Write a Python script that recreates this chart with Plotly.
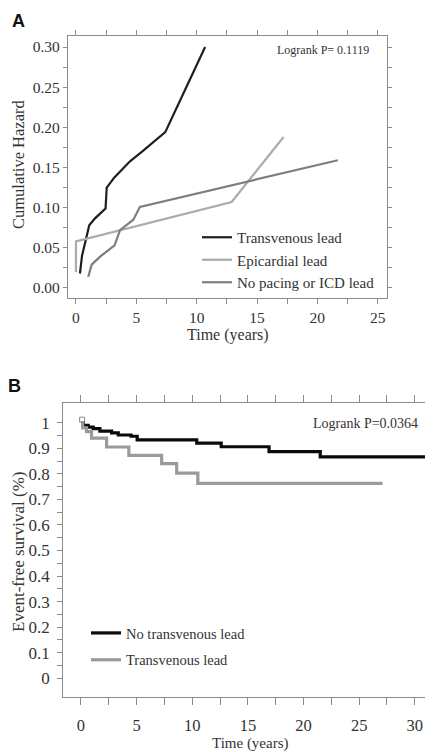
import plotly.graph_objects as go

W, H = 433, 752
OFF = 8  # page body margin in the browser
SERIF = "Liberation Serif"
TXT = "#333333"
FRAME = "#8c8c8c"

# ---------------- Panel A data (cumulative hazard) ----------------
a_trans_t = [0.33, 0.5, 1.1, 1.6, 2.45, 2.55, 3.2, 4.5, 5.5, 7.4, 10.7]
a_trans_h = [0.018, 0.04, 0.078, 0.087, 0.099, 0.125, 0.138, 0.158, 0.170, 0.194, 0.300]
a_epi_t = [0.0, 0.0, 12.9, 17.2]
a_epi_h = [0.020, 0.058, 0.107, 0.188]
a_none_t = [1.02, 1.3, 2.0, 3.2, 3.65, 4.75, 5.3, 21.7]
a_none_h = [0.014, 0.029, 0.039, 0.053, 0.072, 0.085, 0.101, 0.159]

# ---------------- Panel B data (event-free survival) ----------------
b_notv_t = [0, 0.2, 0.65, 1.1, 1.7, 2.75, 3.35, 4.5, 5.05, 10.4, 12.6, 16.9, 21.5, 31.2]
b_notv_s = [1.0, 0.99, 0.983, 0.977, 0.967, 0.96, 0.952, 0.947, 0.933, 0.92, 0.906, 0.887, 0.866, 0.866]
b_tv_t = [0, 0.15, 0.5, 0.95, 2.3, 4.3, 7.25, 8.6, 10.5, 27.1]
b_tv_s = [1.0, 0.98, 0.965, 0.94, 0.905, 0.872, 0.84, 0.803, 0.763, 0.763]
b_censor_t = [0.1]
b_censor_s = [1.012]

b_xticks = [0, 2.5, 5, 7.5, 10, 12.5, 15, 17.5, 20, 22.5, 25, 27.5, 30]
b_xtext = ["0", "", "5", "", "10", "", "15", "", "20", "", "25", "", "30"]
b_yticks = [i / 20 for i in range(21)]
b_ytext = [("1" if i == 20 else "0" if i == 0 else f"{i/20:.1f}") if i % 2 == 0 else "" for i in range(21)]


def px_x(p):
    return (p - OFF) / W


def px_y(p):
    return 1 - (p - OFF) / H


fig = go.Figure()

fig.add_trace(go.Scatter(x=a_trans_t, y=a_trans_h, mode="lines", name="Transvenous lead",
                         line=dict(color="#1e1e1e", width=2.2), xaxis="x", yaxis="y", legend="legend"))
fig.add_trace(go.Scatter(x=a_epi_t, y=a_epi_h, mode="lines", name="Epicardial lead",
                         line=dict(color="#ababab", width=2.2), xaxis="x", yaxis="y", legend="legend"))
fig.add_trace(go.Scatter(x=a_none_t, y=a_none_h, mode="lines", name="No pacing or ICD lead",
                         line=dict(color="#7e7e7e", width=2.2), xaxis="x", yaxis="y", legend="legend"))

fig.add_trace(go.Scatter(x=b_notv_t, y=b_notv_s, mode="lines", name="No transvenous lead",
                         line=dict(color="#0a0a0a", width=3.2, shape="hv"), xaxis="x2", yaxis="y2",
                         legend="legend2", legendgroup="g1"))
fig.add_trace(go.Scatter(x=b_tv_t, y=b_tv_s, mode="lines", name="Transvenous lead",
                         line=dict(color="#9a9a9a", width=3.2, shape="hv"), xaxis="x2", yaxis="y2",
                         legend="legend2", legendgroup="g2"))
fig.add_trace(go.Scatter(x=b_censor_t, y=b_censor_s, mode="markers", showlegend=False,
                         marker=dict(symbol="square-open", size=5, color="#888", line=dict(width=1)),
                         xaxis="x2", yaxis="y2", legend="legend2", legendgroup="g2"))

base = dict(showgrid=False, zeroline=False, showline=True, linecolor=FRAME, linewidth=1.3,
            mirror="allticks", ticks="outside", tickcolor=FRAME, tickwidth=1, automargin=False)


def note(text, x, y, size, family=SERIF, angle=0, xanchor="center", color=TXT):
    return dict(text=text, x=px_x(x), y=px_y(y), xref="paper", yref="paper",
                xanchor=xanchor, yanchor="middle", textangle=angle, showarrow=False,
                font=dict(family=family, size=size, color=color))


fig.update_layout(
    template="none",
    font=dict(family=SERIF, color=TXT, size=15),
    width=W, height=H, margin=dict(l=0, r=0, t=0, b=0, autoexpand=False),
    paper_bgcolor="white", plot_bgcolor="white",
    xaxis=dict(base, domain=[px_x(68), px_x(387)], range=[-0.66, 25.77], anchor="y",
               tickmode="linear", tick0=0, dtick=5, ticklen=5,
               tickfont=dict(family=SERIF, size=15.5, color=TXT),
               minor=dict(tickmode="linear", tick0=0, dtick=2.5, ticks="outside", ticklen=5,
                          tickcolor=FRAME, tickwidth=1)),
    yaxis=dict(base, domain=[px_y(298), px_y(36)], range=[-0.0125, 0.3137], anchor="x",
               tickmode="linear", tick0=0, dtick=0.05, tickformat=".2f", ticklen=4,
               tickfont=dict(family=SERIF, size=15.5, color=TXT),
               minor=dict(tickmode="linear", tick0=0, dtick=0.025, ticks="outside", ticklen=4,
                          tickcolor=FRAME, tickwidth=1)),
    xaxis2=dict(base, domain=[px_x(63.3), px_x(431.5)], range=[-1.59, 31.5], anchor="y2",
                tickmode="array", tickvals=b_xticks, ticktext=b_xtext,
                ticklen=7, ticklabelstandoff=6, tickfont=dict(family=SERIF, size=16.5, color=TXT)),
    yaxis2=dict(base, domain=[px_y(696.7), px_y(403.3)], range=[-0.072, 1.076], anchor="x2",
                tickmode="array", tickvals=b_yticks, ticktext=b_ytext,
                ticklen=5, ticklabelstandoff=4, tickfont=dict(family=SERIF, size=17, color=TXT)),
    legend=dict(x=px_x(197), y=px_y(221), xanchor="left", yanchor="top",
                bgcolor="rgba(0,0,0,0)", font=dict(family=SERIF, size=15, color=TXT)),
    legend2=dict(x=px_x(86), y=px_y(617), xanchor="left", yanchor="top",
                 bgcolor="rgba(0,0,0,0)", font=dict(family=SERIF, size=14.5, color=TXT),
                 traceorder="grouped", tracegroupgap=5),
    annotations=[
        note("<b>A</b>", 18.5, 21.5, 18, family="Liberation Sans", color="#111"),
        note("<b>B</b>", 14.5, 386, 18, family="Liberation Sans", color="#111"),
        note("Logrank P= 0.1119", 371, 50, 12, xanchor="right"),
        note("Logrank P=0.0364", 420, 423, 14, xanchor="right"),
        note("Time (years)", 227.5, 335, 16),
        note("Cumulative Hazard", 18, 165, 16.5, angle=-90),
        note("Time (years)", 250, 743, 15),
        note("Event-free survival (%)", 18, 552, 17, angle=-90),
    ],
)

fig.write_html("out.html")
